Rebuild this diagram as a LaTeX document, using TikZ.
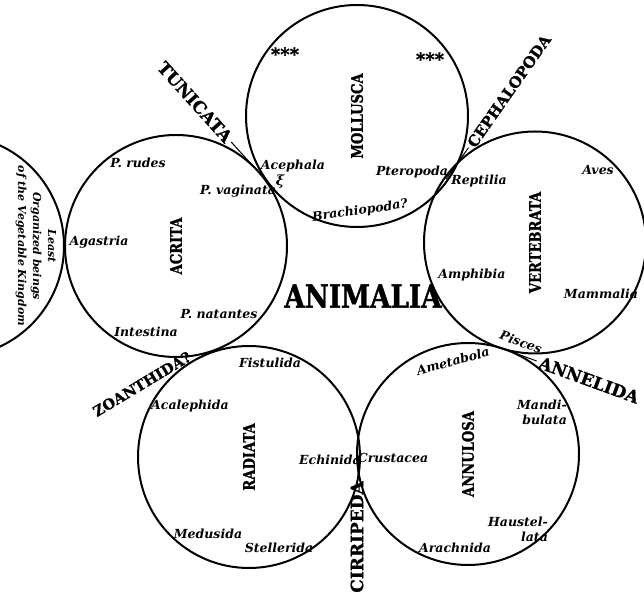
\documentclass[tikz,border=0pt]{standalone}
\usepackage{fontspec}
\setmainfont{DejaVu Serif}
\newfontfamily\narrowserif[FakeStretch=0.82, FakeBold=1.2]{DejaVu Serif}
\newfontfamily\heavyserif[FakeBold=1]{DejaVu Serif}
\usetikzlibrary{calc}

\begin{document}
\begin{tikzpicture}[x=1pt, y=1pt,
    orbit/.style={circle, draw, line width=2pt, minimum size=222pt, inner sep=0pt,
                  font=\narrowserif\bfseries\fontsize{16}{16}\selectfont},
    branch/.style={font=\heavyserif\bfseries\fontsize{17}{17}\selectfont, inner sep=3pt},
    taxon/.style={font=\bfseries\itshape\fontsize{12.5}{15}\selectfont, inner sep=1pt},
    link/.style={line width=1pt}]
    \useasboundingbox (0,0) rectangle (644,601);

    \node [orbit] (mollusca)   at (357,485)   {\rotatebox{90}{MOLLUSCA}};
    \node [orbit] (acrita)     at (176,355)   {\rotatebox{90}{ACRITA}};
    \node [orbit] (vertebrata) at (535,358.5) {\rotatebox{90}{VERTEBRATA}};
    \node [orbit] (radiata)    at (249,144)   {\rotatebox{90}{RADIATA}};
    \node [orbit] (annulosa)   at (468,147)   {\rotatebox{90}{ANNULOSA}};

    \draw [line width=2pt] (acrita.west) arc[start angle=0, end angle=66, radius=111]
                           (acrita.west) arc[start angle=0, end angle=-66, radius=111];

    \coordinate (c-tun)  at ($(acrita)!0.5!(mollusca)$);
    \coordinate (c-ceph) at ($(mollusca)!0.5!(vertebrata)$);
    \coordinate (c-ann)  at ($(vertebrata)!0.5!(annulosa)$);
    \coordinate (c-cir)  at ($(radiata)!0.5!(annulosa)$);
    \coordinate (c-zoa)  at ($(acrita)!0.5!(radiata)$);

    \node [font=\narrowserif\bfseries\fontsize{32}{32}\selectfont] (animalia) at (363,305) {ANIMALIA};

    \node [branch, rotate=-48] (tunicata)    at (195,499) {TUNICATA};
    \node [branch, rotate=55, font=\heavyserif\bfseries\fontsize{15}{15}\selectfont]
        (cephalopoda) at (509,510) {CEPHALOPODA};
    \node [branch, rotate=-20] (annelida)    at (589,221) {ANNELIDA};
    \node [branch, rotate=90]  (cirripeda)   at (357,64)  {CIRRIPEDA};
    \node [branch, rotate=31, font=\heavyserif\bfseries\fontsize{14.5}{15}\selectfont]
        (zoanthida) at (142,217) {ZOANTHIDA?};

    \draw [link] (c-tun) -- (tunicata);
    \draw [link] (c-ceph) -- (cephalopoda);
    \draw [link] (c-ann) -- (annelida);
    \draw [link] (c-cir) -- (cirripeda);
    \draw [link] (c-zoa) -- (zoanthida);

    \node [taxon, font=\heavyserif\bfseries\fontsize{18}{18}\selectfont] (stars-l) at (285,547) {***};
    \node [taxon, font=\heavyserif\bfseries\fontsize{18}{18}\selectfont] (stars-r) at (430,542) {***};
    \node [taxon] (acephala)    at (293,435) {Acephala};
    \node [taxon, font=\bfseries\itshape\fontsize{14}{15}\selectfont] (xi) at (280,419) {ξ};
    \node [taxon] (pteropoda)   at (412,429) {Pteropoda};
    \node [taxon, rotate=8] (brachiopoda) at (360,390) {Brachiopoda?};

    \node [taxon] (rudes)       at (138,438) {P. rudes};
    \node [taxon] (vaginata)    at (238,410) {P. vaginata};
    \node [taxon] (agastria)    at (99,359)  {Agastria};
    \node [taxon] (natantes)    at (219,287) {P. natantes};
    \node [taxon] (intestina)   at (146,269) {Intestina};

    \node [taxon] (reptilia)    at (479,420) {Reptilia};
    \node [taxon] (aves)        at (598,431) {Aves};
    \node [taxon] (amphibia)    at (472,326) {Amphibia};
    \node [taxon] (mammalia)    at (601,307) {Mammalia};
    \node [taxon, rotate=-20] (pisces) at (521,259) {Pisces};

    \node [taxon] (fistulida)   at (270,238) {Fistulida};
    \node [taxon] (acalephida)  at (190,195) {Acalephida};
    \node [taxon] (echinida)    at (330,141) {Echinida};
    \node [taxon] (medusida)    at (208,67)  {Medusida};
    \node [taxon] (stellerida)  at (279,53)  {Stellerida};

    \node [taxon, rotate=15] (ametabola) at (453,240) {Ametabola};
    \node [taxon, align=right] (mandibulata) at (542,189) {Mandi-\\bulata};
    \node [taxon] (crustacea)   at (393,143) {Crustacea};
    \node [taxon, align=right] (haustellata) at (518,72) {Haustel-\\lata};
    \node [taxon] (arachnida)   at (455,53)  {Arachnida};

    \node [taxon, rotate=-90, align=center, font=\bfseries\itshape\fontsize{11}{15}\selectfont]
        (vegetable) at (36,355) {Least\\Organized beings\\of the Vegetable Kingdom};
\end{tikzpicture}
\end{document}
